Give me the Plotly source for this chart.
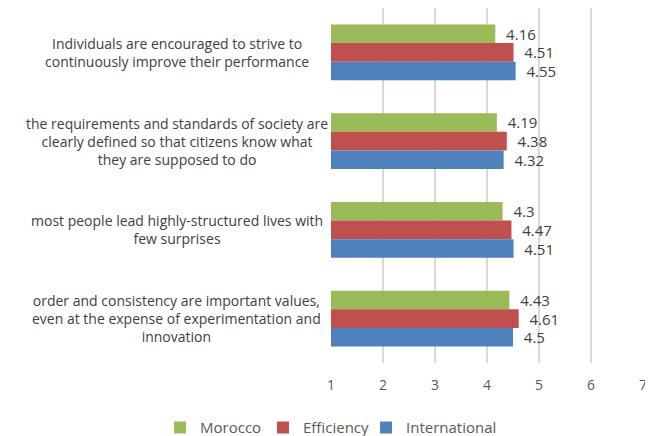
import plotly.graph_objects as go

# categories, top to bottom
categories = [
    "Individuals are encouraged to strive to<br>continuously improve their performance",
    "the requirements and standards of society are<br>clearly defined so that citizens know what<br>they are supposed to do",
    "most people lead highly-structured lives with<br>few surprises",
    "order and consistency are important values,<br>even at the expense of experimentation and<br>innovation",
]
cat_ids = ["c1", "c2", "c3", "c4"]

morocco = [4.16, 4.19, 4.3, 4.43]
efficiency = [4.51, 4.38, 4.47, 4.61]
international = [4.55, 4.32, 4.51, 4.5]

series = [
    ("Morocco", morocco, "#9BBB59"),
    ("Efficiency", efficiency, "#C0504D"),
    ("International", international, "#4F81BD"),
]

fig = go.Figure()
for name, vals, color in series:
    fig.add_trace(go.Bar(
        name=name,
        y=cat_ids,
        x=[v - 1 for v in vals],
        base=1,
        orientation="h",
        marker=dict(color=color, line=dict(width=0)),
        text=["  " + str(v) for v in vals],
        textposition="outside",
        constraintext="none",
        cliponaxis=False,
        textfont=dict(size=15, color="#404040", family="Open Sans"),
    ))

# empty legend entry so the last name is not clipped by entrywidth
fig.add_trace(go.Scatter(
    x=[None], y=[None], mode="markers", name="",
    marker=dict(opacity=0), hoverinfo="skip",
))

# centred category labels
for cid, label in zip(cat_ids, categories):
    fig.add_annotation(
        x=-0.494, xref="paper", y=cid, yref="y",
        text=label, showarrow=False, align="center",
        xanchor="center", yanchor="middle",
        font=dict(size=14, color="#404040", family="Open Sans"),
    )

# page body adds an 8px margin, so the figure is a bit smaller than the window
fig.update_layout(
    width=645, height=428,
    margin=dict(l=323, r=10, t=0, b=73, autoexpand=False),
    barmode="group",
    bargap=0.37,
    bargroupgap=0,
    plot_bgcolor="white",
    paper_bgcolor="white",
    font=dict(family="Open Sans", color="#595959"),
    legend=dict(
        orientation="h", x=-0.548, xanchor="left", y=-0.136, yanchor="top",
        font=dict(size=15, color="#595959"),
        itemwidth=30, traceorder="normal", entrywidth=58,
    ),
)
fig.update_xaxes(
    range=[1, 7], dtick=1, tick0=1,
    showgrid=True, gridcolor="#d9d9d9", gridwidth=2,
    zeroline=False, showline=False,
    tickfont=dict(size=14, color="#595959"),
    ticklabelstandoff=12,
)
fig.update_yaxes(
    autorange="reversed",
    showticklabels=False, showgrid=False, zeroline=False, showline=False,
)

fig.write_html("out.html")
